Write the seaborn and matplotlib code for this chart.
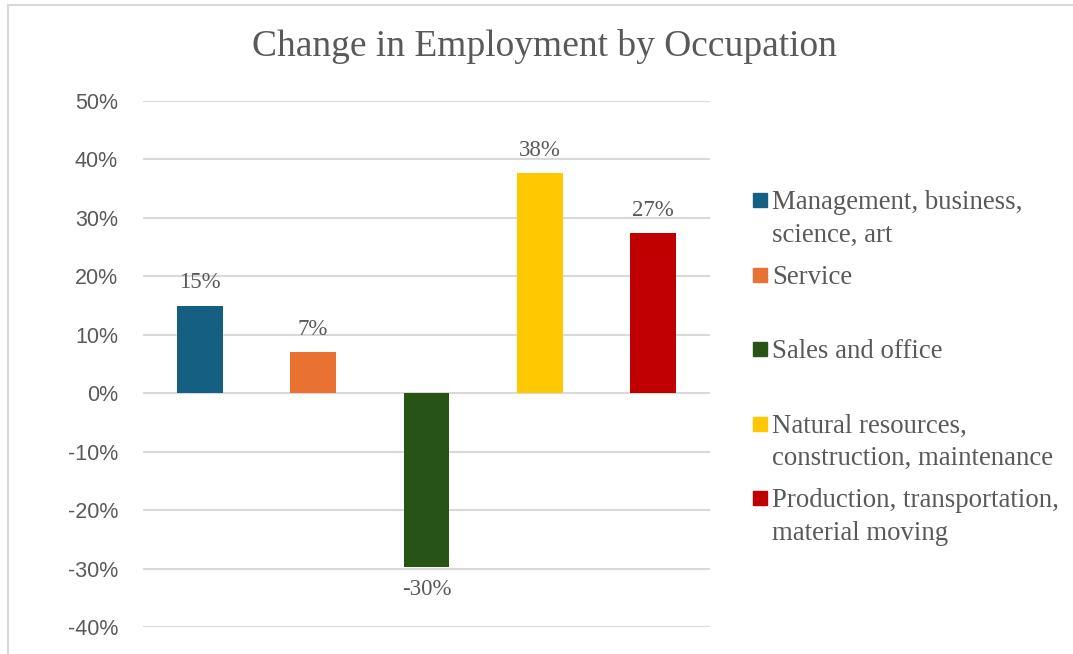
import textwrap
import matplotlib
matplotlib.use("Agg")
import matplotlib.pyplot as plt
from matplotlib.patches import Rectangle
from matplotlib.ticker import PercentFormatter
import pandas as pd
import seaborn as sns

# data
occupations = [
    "Management, business, science, art",
    "Service",
    "Sales and office",
    "Natural resources, construction, maintenance",
    "Production, transportation, material moving",
]
change = [0.15, 0.07, -0.297, 0.376, 0.274]
bar_colors = ["#156082", "#E97132", "#275317", "#FFC800", "#C00000"]
y_ticks = [-0.4, -0.3, -0.2, -0.1, 0.0, 0.1, 0.2, 0.3, 0.4, 0.5]

df = pd.DataFrame({"Occupation": occupations, "Change": change})

sns.set_theme(style="white")
plt.rcParams["axes.unicode_minus"] = False
text_gray = "#595959"
grid_gray = "#D9D9D9"
serif = "Liberation Serif"

fig = plt.figure(figsize=(10.73, 6.54), dpi=100)
ax = fig.add_axes([143 / 1073, 1 - 627 / 654, (710 - 143) / 1073, (627 - 101) / 654])

sns.barplot(data=df, x="Occupation", y="Change", hue="Occupation",
            palette=bar_colors, saturation=1, width=0.405, linewidth=0,
            legend=False, ax=ax, zorder=3)

ax.set_ylim(-0.4, 0.5)
ax.set_yticks(y_ticks)
ax.yaxis.set_major_formatter(PercentFormatter(1.0, decimals=0))
ax.grid(axis="y", color=grid_gray, linewidth=1.5, zorder=0)
ax.set_axisbelow(True)
ax.set_xlabel("")
ax.set_ylabel("")
ax.set_xticks([])
ax.tick_params(axis="y", length=0, pad=18, labelsize=15.5, labelcolor=text_gray)
for lab in ax.get_yticklabels():
    lab.set_family("Liberation Sans")
for s in ax.spines.values():
    s.set_visible(False)

for cont in ax.containers:
    ax.bar_label(cont, fmt=lambda v: f"{v * 100:.0f}%", padding=9,
                 fontsize=16.5, color=text_gray, family=serif)

fig.text(544 / 1073, 1 - 47 / 654, "Change in Employment by Occupation",
         ha="center", va="center", fontsize=27, color=text_gray, family=serif)

# legend, Excel style: marker beside the first line of each entry
for i, (name, col) in enumerate(zip(occupations, bar_colors)):
    yc = 200 + i * 74.5
    fig.add_artist(Rectangle((753 / 1073, 1 - (yc + 7) / 654), 14 / 1073, 14 / 654,
                             transform=fig.transFigure, color=col))
    fig.text(772 / 1073, 1 - (yc - 10) / 654, textwrap.fill(name, 27),
             ha="left", va="top", fontsize=19.3, color=text_gray, family=serif,
             linespacing=1.4)

# chart border (cut off at right and bottom)
fig.add_artist(Rectangle((8 / 1073, -0.1), 1.2, 1.1 - 5 / 654, transform=fig.transFigure,
                         fill=False, edgecolor=grid_gray, linewidth=1.5))

fig.savefig("out.png", dpi=100)
